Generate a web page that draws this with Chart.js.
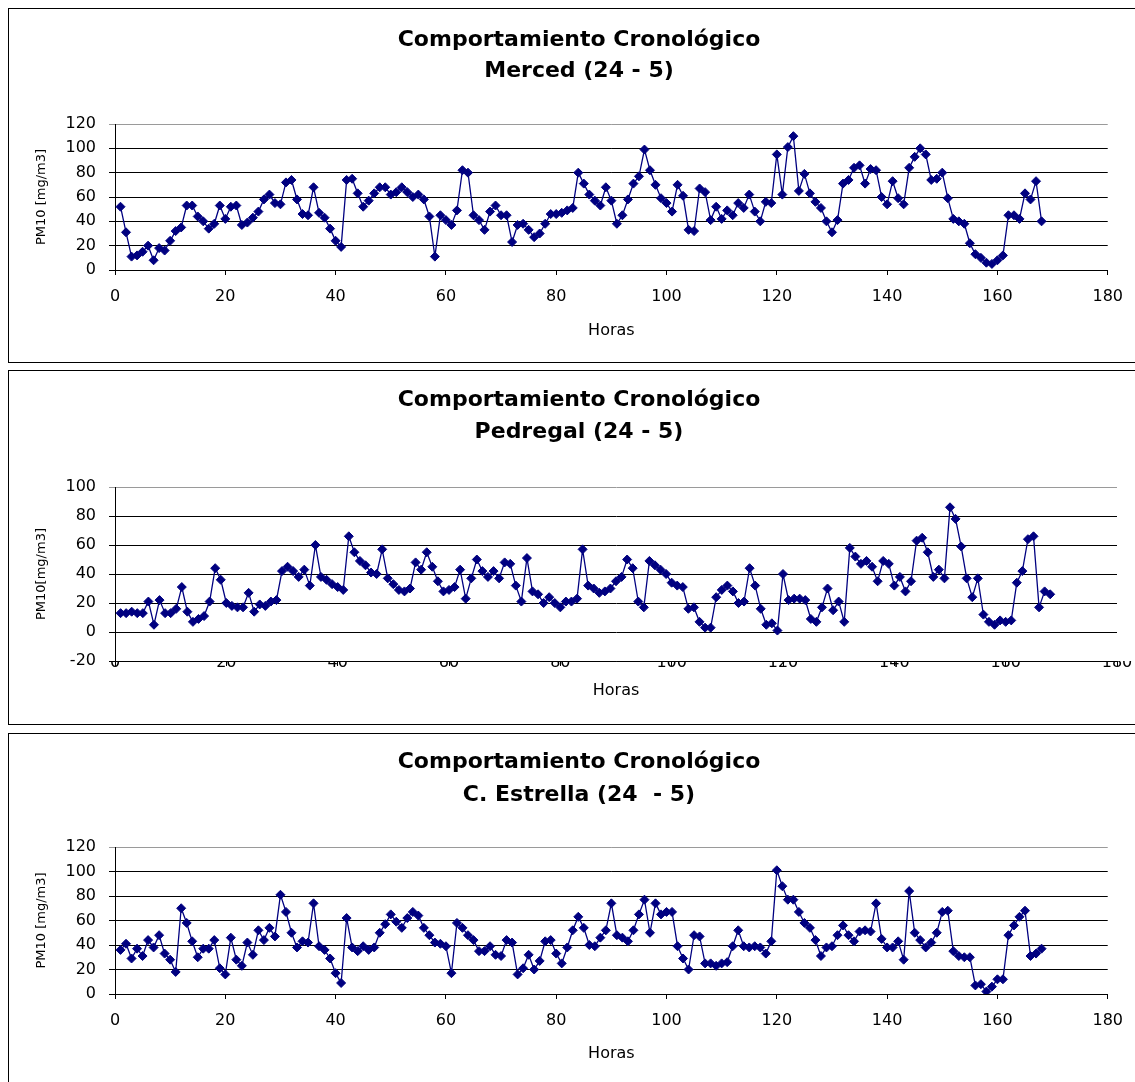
<!DOCTYPE html>
<html>
<head>
<meta charset="utf-8">
<script src="https://cdn.jsdelivr.net/npm/chart.js@4.4.0/dist/chart.umd.min.js"></script>
<style>
  body { margin: 0; background: #fff; width: 1135px; height: 1082px; overflow: hidden; position: relative; }
  .caja { position: absolute; left: 8px; width: 1126px; height: 353px; border: 1px solid #000; background: #fff; }
  .caja canvas { display: block; }
</style>
</head>
<body>
<div class="caja" style="top:8px"><canvas id="g1" width="1126" height="353"></canvas></div>
<div class="caja" style="top:370px"><canvas id="g2" width="1126" height="353"></canvas></div>
<div class="caja" style="top:733px"><canvas id="g3" width="1126" height="353"></canvas></div>
<script>
// horas 1..168
const horas = Array.from({ length: 168 }, (_, i) => i + 1);
const ejeX = [0, 20, 40, 60, 80, 100, 120, 140, 160, 180];

const merced = [
  52, 31, 11, 12, 15, 20, 8, 18, 16, 24,
  32, 35, 53, 53, 44, 40, 34, 38, 53, 42,
  52, 53, 37, 39, 43, 48, 58, 62, 55, 54,
  72, 74, 58, 46, 45, 68, 47, 43, 34, 24,
  19, 74, 75, 63, 52, 57, 63, 68, 68, 62,
  64, 68, 64, 60, 62, 58, 44, 11, 45, 41,
  37, 49, 82, 80, 45, 41, 33, 48, 53, 45,
  45, 23, 37, 38, 33, 27, 30, 38, 46, 46,
  47, 49, 51, 80, 71, 62, 57, 53, 68, 57,
  38, 45, 58, 71, 77, 99, 82, 70, 59, 55,
  48, 70, 61, 33, 32, 67, 64, 41, 52, 42,
  49, 45, 55, 51, 62, 48, 40, 56, 55, 95,
  62, 101, 110, 65, 79, 63, 56, 51, 40, 31,
  41, 71, 74, 84, 86, 71, 83, 82, 60, 54,
  73, 59, 54, 84, 93, 100, 95, 74, 75, 80,
  59, 42, 40, 38, 22, 13, 10, 6, 5, 8,
  12, 45, 45, 42, 63, 58, 73, 40
];

const pedregal = [
  13, 13, 14, 13, 13, 21, 5, 22, 13, 13,
  16, 31, 14, 7, 9, 11, 21, 44, 36, 20,
  18, 17, 17, 27, 14, 19, 18, 21, 22, 42,
  45, 42, 38, 43, 32, 60, 38, 36, 33, 31,
  29, 66, 55, 49, 46, 41, 40, 57, 37, 33,
  29, 28, 30, 48, 43, 55, 45, 35, 28, 29,
  31, 43, 23, 37, 50, 42, 38, 42, 37, 48,
  47, 32, 21, 51, 28, 26, 20, 24, 20, 17,
  21, 21, 23, 57, 32, 30, 27, 28, 30, 35,
  38, 50, 44, 21, 17, 49, 46, 43, 40, 34,
  32, 31, 16, 17, 7, 3, 3, 24, 29, 32,
  28, 20, 21, 44, 32, 16, 5, 6, 1, 40,
  22, 23, 23, 22, 9, 7, 17, 30, 15, 21,
  7, 58, 52, 47, 49, 45, 35, 49, 47, 32,
  38, 28, 35, 63, 65, 55, 38, 43, 37, 86,
  78, 59, 37, 24, 37, 12, 7, 5, 8, 7,
  8, 34, 42, 64, 66, 17, 28, 26
];

const estrella = [
  36, 41, 29, 37, 31, 44, 38, 48, 33, 28,
  18, 70, 58, 43, 30, 37, 37, 44, 21, 16,
  46, 28, 23, 42, 32, 52, 44, 54, 47, 81,
  67, 50, 38, 43, 42, 74, 39, 36, 29, 17,
  9, 62, 38, 35, 39, 36, 38, 50, 57, 65,
  59, 54, 62, 67, 64, 54, 48, 42, 41, 39,
  17, 58, 54, 48, 44, 35, 35, 39, 32, 31,
  44, 42, 16, 21, 32, 20, 27, 43, 44, 33,
  25, 38, 52, 63, 54, 40, 39, 46, 52, 74,
  48, 46, 43, 52, 65, 77, 50, 74, 65, 67,
  67, 39, 29, 20, 48, 47, 25, 25, 23, 25,
  26, 39, 52, 39, 38, 39, 38, 33, 43, 101,
  88, 77, 77, 67, 58, 54, 44, 31, 38, 39,
  48, 56, 48, 43, 51, 52, 51, 74, 45, 38,
  38, 43, 28, 84, 50, 44, 38, 42, 50, 67,
  68, 35, 31, 30, 30, 7, 8, 2, 6, 12,
  12, 48, 56, 63, 68, 31, 33, 37
];

const titulo = 'Comportamiento Cronológico';
const fuente = 'DejaVu Sans';

function grafico(id, estacion, valores, yMin, yMax, yTitulo, op) {
  const puntos = horas.map((h, i) => ({ x: h, y: valores[i] }));
  return new Chart(document.getElementById(id), {
    type: 'line',
    data: {
      datasets: [{
        data: puntos,
        borderColor: '#000080',
        backgroundColor: '#000080',
        borderWidth: 1.3,
        pointStyle: 'rectRot',
        pointRadius: 4.5,
        pointBorderWidth: 1,
        pointBackgroundColor: '#000080',
        pointBorderColor: '#000080',
        tension: 0
      }]
    },
    options: {
      responsive: false,
      animation: false,
      // padding izquierdo para centrar el titulo como en el original
      layout: { padding: { left: 32, right: 18, top: 0, bottom: 0 } },
      plugins: {
        legend: { display: false },
        tooltip: { enabled: false },
        title: {
          display: true,
          text: [titulo, estacion],
          color: '#000',
          font: { family: fuente, size: 22, weight: 'bold', lineHeight: op.tLinea / 22 },
          padding: { top: op.tTop, bottom: op.tBottom }
        }
      },
      scales: {
        x: {
          type: 'linear',
          min: 0, max: 180,
          afterBuildTicks: s => { s.ticks = ejeX.map(v => ({ value: v })); },
          afterFit: s => { s.height = op.xAlto; },
          ticks: { color: '#000', font: { family: fuente, size: 16 }, padding: op.xPad, maxRotation: 0 },
          grid: { drawOnChartArea: false, drawTicks: true, tickLength: 5, color: '#000' },
          border: { display: true, color: '#000', width: 1 },
          title: { display: true, text: 'Horas', color: '#000', font: { family: fuente, size: 16 }, padding: { top: 0, bottom: op.hPad } }
        },
        y: {
          min: yMin, max: yMax,
          ticks: { stepSize: 20, color: '#000', font: { family: fuente, size: 16 }, padding: 13 },
          afterFit: s => { s.width = 74; },
          grid: {
            color: c => (c.tick && c.tick.value === yMax) ? '#9a9a9a' : '#000',
            lineWidth: 1, tickLength: 6
          },
          border: { display: true, color: '#000', width: 1 },
          title: { display: true, text: yTitulo, color: '#000', font: { family: fuente, size: 13 }, padding: { top: -7, bottom: 0 } }
        }
      }
    }
  });
}

grafico('g1', 'Merced (24 - 5)', merced, 0, 120, 'PM10 [mg/m3]',
  { tLinea: 31, tTop: 15.5, tBottom: 37.5, xAlto: 92, xPad: 12, hPad: 22 });
grafico('g2', 'Pedregal (24 - 5)', pedregal, -20, 100, 'PM10[mg/m3]',
  { tLinea: 32, tTop: 13, tBottom: 39, xAlto: 63, xPad: -13, hPad: 24 });
grafico('g3', 'C. Estrella (24  - 5)', estrella, 0, 120, 'PM10 [mg/m3]',
  { tLinea: 33, tTop: 11.5, tBottom: 35.5, xAlto: 93, xPad: 12, hPad: 24 });
</script>
</body>
</html>
